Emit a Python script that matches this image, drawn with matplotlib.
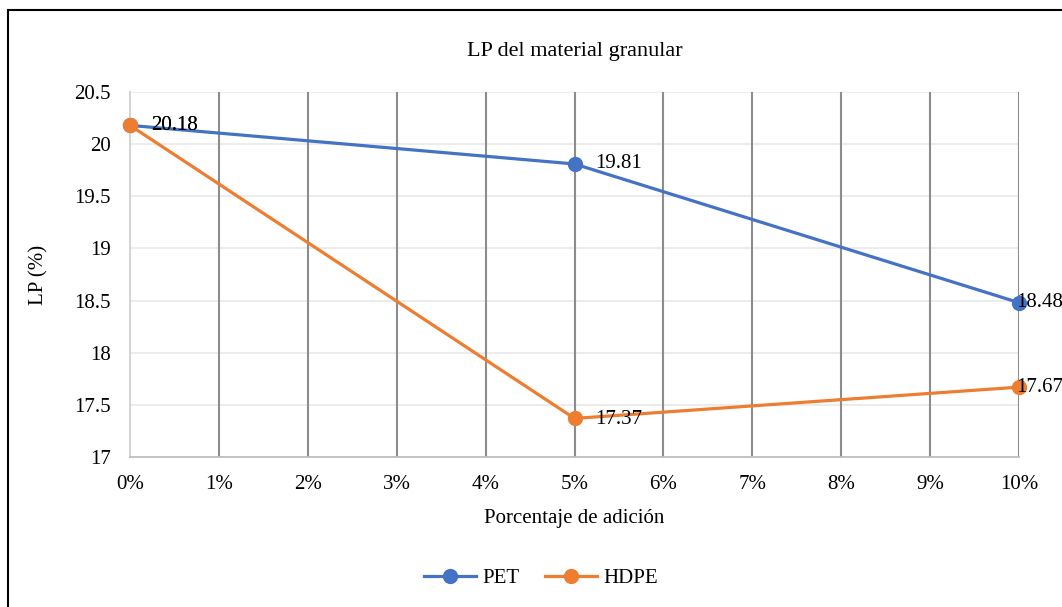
import matplotlib
matplotlib.use("Agg")
import matplotlib.pyplot as plt
from matplotlib.patches import Rectangle

plt.rcParams["font.family"] = ["Liberation Serif", "DejaVu Serif"]

# Datos
x_ticks = [0, 1, 2, 3, 4, 5, 6, 7, 8, 9, 10]
x_labels = [f"{v}%" for v in x_ticks]
x_adicion = [0, 5, 10]
lp_pet = [20.18, 19.81, 18.48]
lp_hdpe = [20.18, 17.37, 17.67]

c_pet = "#4472C4"
c_hdpe = "#ED7D31"

fig = plt.figure(figsize=(10.62, 6.07), dpi=100)
ax = fig.add_axes([130 / 1062, 1 - 457 / 607, 889 / 1062, 365 / 607])

# marco exterior
fig.patches.append(Rectangle((8 / 1062, -0.1), 1.2, 1 - 10 / 607 + 0.1,
                             transform=fig.transFigure, fill=False,
                             edgecolor="black", linewidth=1.5))

ax.plot(x_adicion, lp_pet, "-o", color=c_pet, lw=2.3, ms=10, label="PET",
        clip_on=False, zorder=4)
ax.plot(x_adicion, lp_hdpe, "-o", color=c_hdpe, lw=2.3, ms=10, label="HDPE",
        clip_on=False, zorder=4)

# etiquetas de datos
fs = 15
ax.annotate(f"{lp_pet[0]:.2f}", (x_adicion[0], lp_pet[0]), xytext=(15, 0),
            textcoords="offset points", va="center", fontsize=fs, zorder=5)
ax.annotate(f"{lp_hdpe[0]:.2f}", (x_adicion[0], lp_hdpe[0]), xytext=(15, 0),
            textcoords="offset points", va="center", fontsize=fs, zorder=5)
ax.annotate(f"{lp_pet[1]:.2f}", (x_adicion[1], lp_pet[1]), xytext=(15, 0),
            textcoords="offset points", va="center", fontsize=fs, zorder=5)
ax.annotate(f"{lp_hdpe[1]:.2f}", (x_adicion[1], lp_hdpe[1]), xytext=(15, -1),
            textcoords="offset points", va="center", fontsize=fs, zorder=5)
ax.annotate(f"{lp_pet[2]:.2f}", (x_adicion[2], lp_pet[2]), xytext=(-2, 0),
            textcoords="offset points", va="center", fontsize=fs, zorder=5)
ax.annotate(f"{lp_hdpe[2]:.2f}", (x_adicion[2], lp_hdpe[2]), xytext=(-2, 0),
            textcoords="offset points", va="center", fontsize=fs, zorder=5)

ax.set_xlim(0, 10)
ax.set_ylim(17, 20.5)
ax.set_xticks(x_ticks)
ax.set_xticklabels(x_labels)
ax.set_yticks([17, 17.5, 18, 18.5, 19, 19.5, 20, 20.5])
ax.set_yticklabels(["17", "17.5", "18", "18.5", "19", "19.5", "20", "20.5"])
ax.tick_params(axis="y", length=0, labelsize=fs, pad=14)
ax.tick_params(axis="x", length=0, labelsize=fs, pad=13)

ax.grid(axis="y", color="#ebebeb", lw=1.3)
for v in x_ticks[1:]:
    ax.axvline(v, color="#8c8c8c", lw=1.5, zorder=1)
ax.set_axisbelow(True)
for s in ["top", "right"]:
    ax.spines[s].set_visible(False)
ax.spines["left"].set_color("#d0d0d0")
ax.spines["bottom"].set_color("#bfbfbf")
ax.spines["left"].set_linewidth(1.3)
ax.spines["bottom"].set_linewidth(1.3)

ax.set_title("LP del material granular", fontsize=16, pad=26)
ax.set_xlabel("Porcentaje de adición", fontsize=fs, labelpad=11)
ax.set_ylabel("LP (%)", fontsize=fs, labelpad=18)

fig.legend(loc="center", bbox_to_anchor=(541 / 1062, 1 - 578 / 607), ncol=2,
           frameon=False, fontsize=fs, handlelength=2.5, columnspacing=1.2,
           handletextpad=0.3)

fig.savefig("out.png", dpi=100)
